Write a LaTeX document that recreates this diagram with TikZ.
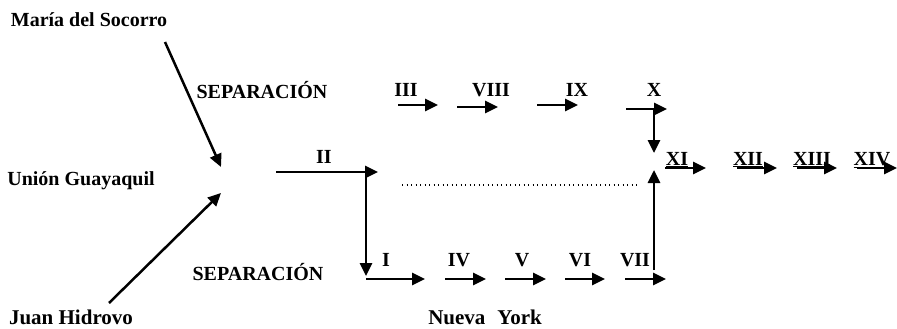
\documentclass[tikz,border=0pt]{standalone}
\usepackage{fontspec}
\setmainfont{Liberation Serif}
\usepackage{tikz}
\usetikzlibrary{arrows.meta}
\tikzset{
    lbl/.style={inner sep=0pt, font=\fontsize{20}{22}\selectfont\bfseries},
    biglbl/.style={lbl, font=\fontsize{21}{23}\selectfont\bfseries},
    ulbl/.style={lbl, anchor=base},
    flow/.style={line width=2.9pt, -{Triangle[length=13pt,width=12pt]}},
    gap/.style={line width=1.3pt, dash pattern=on 1.3pt off 3.2pt}
}

\begin{document}
\begin{tikzpicture}[x=1pt, y=-1pt]
    \useasboundingbox (0,0) rectangle (897,329);
    % people and the union
    \node[lbl] (socorro) at (89,20) {María del Socorro};
    \node[lbl] (union) at (81,181) {Unión Guayaquil};
    \node[biglbl] (juan) at (71,317) {Juan Hidrovo};
    \node[lbl] (sepA) at (262,90) {SEPARACIÓN};
    \node[lbl] (sepB) at (258,272) {SEPARACIÓN};
    \node[biglbl] (ny) at (485,317) {Nueva\hspace{12pt}York};
    \coordinate (socS) at (165,42);  \coordinate (hubA) at (221,167);
    \coordinate (juanS) at (109,303); \coordinate (hubB) at (221,193);
    \draw[flow, line width=2.5pt] (socS) -- (hubA);
    \draw[flow, line width=2.5pt] (juanS) -- (hubB);

    % II and the split down to I
    \node[lbl] (ii) at (324,157) {II};
    \coordinate (iiA) at (276,172); \coordinate (iiB) at (378,172);
    \coordinate (dnA) at (366,172); \coordinate (dnB) at (366,276);
    \draw[flow] (iiA) -- (iiB);
    \draw[flow] (dnA) -- (dnB);
    \coordinate (gapA) at (402,185); \coordinate (gapB) at (637,185);
    \draw[gap] (gapA) -- (gapB);

    % lower row
    \node[lbl] (i) at (386,260) {I};
    \node[lbl] (iv) at (459,260) {IV};
    \node[lbl] (v) at (522,260) {V};
    \node[lbl] (vi) at (580,260) {VI};
    \node[lbl] (vii) at (635,260) {VII};
    \coordinate (iA) at (366,279);   \coordinate (iB) at (425,279);
    \coordinate (ivA) at (445,279);  \coordinate (ivB) at (486,279);
    \coordinate (vA) at (505,279);   \coordinate (vB) at (546,279);
    \coordinate (viA) at (565,279);  \coordinate (viB) at (605,279);
    \coordinate (viiA) at (625,279); \coordinate (viiB) at (666,279);
    \draw[flow] (iA) -- (iB);
    \draw[flow] (ivA) -- (ivB);
    \draw[flow] (vA) -- (vB);
    \draw[flow] (viA) -- (viB);
    \draw[flow] (viiA) -- (viiB);
    \coordinate (upA) at (654,270); \coordinate (upB) at (654,170);
    \draw[flow] (upA) -- (upB);

    % upper row
    \node[lbl] (iii) at (406,90) {III};
    \node[lbl] (viii) at (491,90) {VIII};
    \node[lbl] (ix) at (577,90) {IX};
    \node[lbl] (x) at (654,90) {X};
    \coordinate (iiiA) at (398,105);  \coordinate (iiiB) at (438,105);
    \coordinate (viiiA) at (457,107); \coordinate (viiiB) at (498,107);
    \coordinate (ixA) at (537,105);   \coordinate (ixB) at (578,105);
    \coordinate (xA) at (626,109);    \coordinate (xB) at (667,109);
    \draw[flow] (iiiA) -- (iiiB);
    \draw[flow] (viiiA) -- (viiiB);
    \draw[flow] (ixA) -- (ixB);
    \draw[flow] (xA) -- (xB);
    \coordinate (dwA) at (654,109); \coordinate (dwB) at (654,153);
    \draw[flow] (dwA) -- (dwB);

    % after the reunion
    \node[ulbl] (xi) at (677,165) {\underline{XI}};
    \node[ulbl] (xii) at (748,165) {\underline{XII}};
    \node[ulbl] (xiii) at (812,165) {\underline{XIII}};
    \node[ulbl] (xiv) at (872,165) {\underline{XIV}};
    \coordinate (xiA) at (665,168);   \coordinate (xiB) at (706,168);
    \coordinate (xiiA) at (737,168);  \coordinate (xiiB) at (777,168);
    \coordinate (xiiiA) at (797,168); \coordinate (xiiiB) at (837,168);
    \coordinate (xivA) at (857,168);  \coordinate (xivB) at (897,168);
    \draw[flow] (xiA) -- (xiB);
    \draw[flow] (xiiA) -- (xiiB);
    \draw[flow] (xiiiA) -- (xiiiB);
    \draw[flow] (xivA) -- (xivB);
\end{tikzpicture}
\end{document}
